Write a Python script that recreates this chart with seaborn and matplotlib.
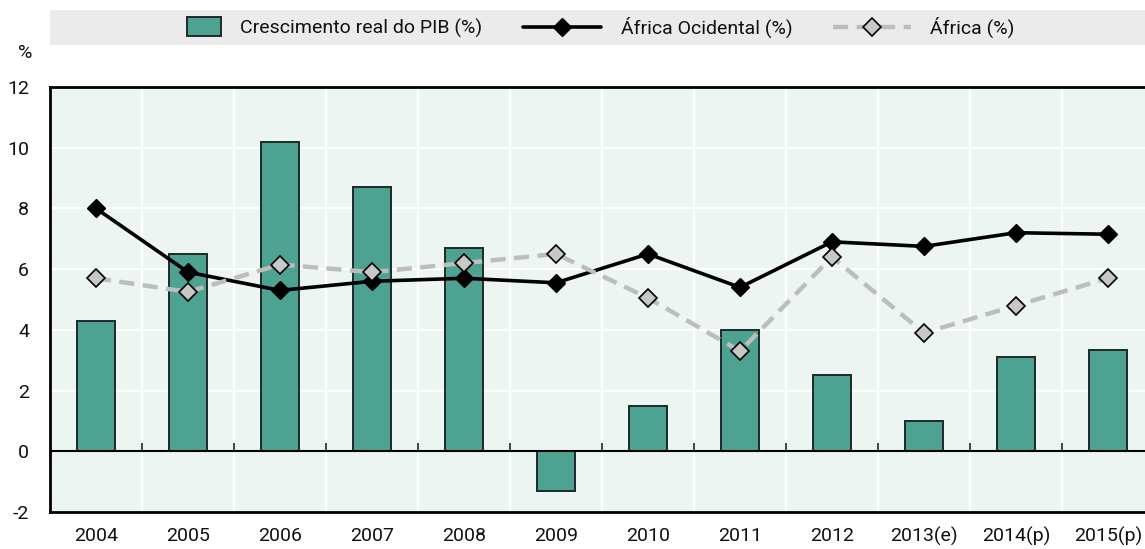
import matplotlib
matplotlib.use("Agg")
import matplotlib.pyplot as plt
from matplotlib.patches import Rectangle, Patch
from matplotlib.lines import Line2D
from matplotlib.legend_handler import HandlerPatch
import seaborn as sns
import numpy as np

years = ["2004", "2005", "2006", "2007", "2008", "2009", "2010", "2011",
         "2012", "2013(e)", "2014(p)", "2015(p)"]
pib = [4.3, 6.5, 10.2, 8.7, 6.7, -1.3, 1.5, 4.0, 2.5, 1.0, 3.1, 3.35]
africa_ocidental = [8.0, 5.9, 5.3, 5.6, 5.7, 5.55, 6.5, 5.4, 6.9, 6.75, 7.2, 7.15]
africa = [5.7, 5.25, 6.15, 5.9, 6.2, 6.5, 5.05, 3.3, 6.4, 3.9, 4.8, 5.7]
yticks = [-2, 0, 2, 4, 6, 8, 10, 12]

sns.set_theme(style="white")
plt.rcParams["font.family"] = ["Roboto", "DejaVu Sans"]

BAR = "#4ea291"
BG = "#edf5f3"
FS = 14
TXT = "#111111"

fig = plt.figure(figsize=(11.45, 5.49), dpi=100)
W, H = 1145, 549
ax = fig.add_axes([50 / W, 37 / H, (1154 - 50) / W, (512 - 87) / H])
ax.set_facecolor(BG)

sns.barplot(x=years, y=pib, color=BAR, saturation=1, width=0.41,
            edgecolor="#1e2a28", linewidth=1.4, ax=ax, zorder=3)
sns.pointplot(x=years, y=africa_ocidental, color="black", marker="D",
              markersize=9.5, linewidth=2.6, markeredgewidth=1,
              errorbar=None, ax=ax, zorder=5)
sns.pointplot(x=years, y=africa, color="#bdbdbd", marker="D",
              linestyle=(0, (3.4, 1.9)), markersize=9.5, linewidth=3.2,
              markerfacecolor="#c8c8c8", markeredgecolor="black",
              markeredgewidth=1.2, errorbar=None, ax=ax, zorder=6)

n = len(years)
ax.set_xlim(-0.5, n - 0.5)
ax.set_ylim(-2, 12)
ax.set_yticks(yticks)
ax.set_yticklabels([str(v) for v in yticks])
ax.set_xticks(np.arange(n) + 0.5, minor=True)
ax.grid(False)
ax.grid(True, which="minor", axis="x", color="white", linewidth=1.5, zorder=0)
ax.grid(True, which="major", axis="y", color="white", linewidth=1.5, zorder=0)
ax.set_axisbelow(True)
ax.axhline(0, color="black", linewidth=1.5, zorder=4)
ax.vlines(np.arange(n - 1) + 0.5, 0, 0.27, color="#333333", linewidth=1.3, zorder=4)

ax.tick_params(axis="x", which="both", length=0, pad=11, labelsize=FS, colors=TXT)
ax.tick_params(axis="y", which="major", direction="in", length=7, width=1,
               color="#999999", pad=15, labelsize=FS, labelcolor=TXT)
for s in ["left", "bottom", "top"]:
    ax.spines[s].set_color("black")
    ax.spines[s].set_linewidth(2)
ax.spines["right"].set_visible(False)
ax.set_xlabel("")
ax.set_ylabel("")

fig.text(25 / W, 1 - 53 / H, "%", fontsize=FS, ha="center", va="center", color=TXT)

fig.add_artist(Rectangle((50 / W, 1 - 45 / H), (W - 50) / W, 35 / H,
                         transform=fig.transFigure, facecolor="#ebebeb",
                         edgecolor="none", zorder=0))


def narrow_rect(legend, orig_handle, xdescent, ydescent, width, height, fontsize):
    w = width * 0.44
    h = height * 1.35
    return Rectangle((width - w - xdescent, -ydescent - (h - height) / 2), w, h)


handles = [
    Patch(facecolor=BAR, edgecolor="#1e2a28", linewidth=1.4),
    Line2D([], [], color="black", marker="D", markersize=9.5, linewidth=2.6),
    Line2D([], [], color="#bdbdbd", marker="D", markersize=9.5, linewidth=3.2,
           linestyle=(0, (3.4, 1.9)), markerfacecolor="#c8c8c8",
           markeredgecolor="black", markeredgewidth=1.2),
]
labels = ["Crescimento real do PIB (%)", "África Ocidental (%)", "África (%)"]
leg = fig.legend(handles, labels, loc="center", bbox_to_anchor=(579 / W, 1 - 27 / H),
                 ncol=3, frameon=False, fontsize=FS, handlelength=4.0,
                 handletextpad=1.0, columnspacing=2.1,
                 handler_map={Patch: HandlerPatch(patch_func=narrow_rect)})
for t in leg.get_texts():
    t.set_color(TXT)

fig.savefig("out.png", dpi=100)
